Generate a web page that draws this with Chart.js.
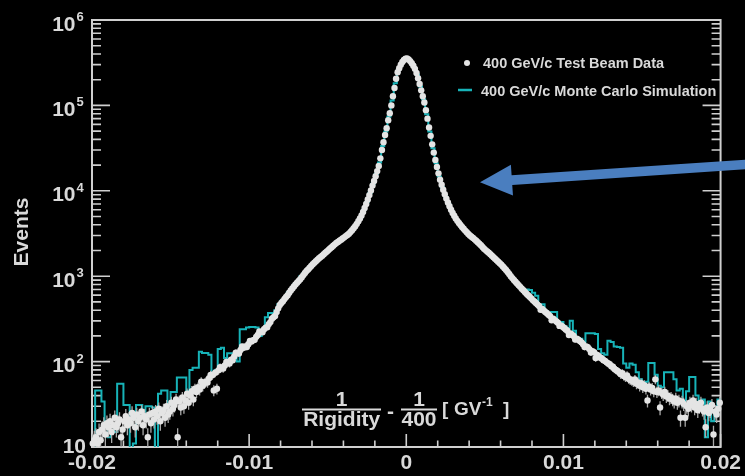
<!DOCTYPE html>
<html><head><meta charset="utf-8">
<script src="https://cdn.jsdelivr.net/npm/chart.js@4.4.1/dist/chart.umd.min.js"></script>
<style>html,body{margin:0;padding:0;background:#000;}canvas{display:block;}</style>
</head><body>
<canvas id="c" width="745" height="476"></canvas>
<script>
// ---- binning / axis definitions ----
const X_MIN = -0.02, X_MAX = 0.02;
const DATA_BIN_WIDTH = 0.0001;   // test-beam data histogram bins
const MC_BIN_WIDTH = 0.0002;     // Monte Carlo histogram bins
const xTickLabels = [-0.02, -0.01, 0, 0.01, 0.02];
const yDecades = [1, 2, 3, 4, 5, 6];   // 10^1 ... 10^6
const legendLabels = ['400 GeV/c Test Beam Data', '400 GeV/c Monte Carlo Simulation'];
const xTitleParts = { num: '1', den: 'Rigidity', num2: '1', den2: '400', unit: 'GV', unitExp: '-1' };
const yTitle = 'Events';

// ---- test beam data, events per bin (x < 0, ascending x) ----
const dataCountsNeg = [
  11, 12, 13, 11, 15, 12, 16, 18, 14, 19,
  17, 20, 15, 18, 22, 17, 19, 21, 13, 16,
  20, 23, 18, 21, 19, 25, 22, 17, 24, 20,
  22, 26, 18, 23, 21, 13, 24, 19, 25, 21,
  26, 23, 28, 20, 25, 27, 22, 30, 24, 26,
  33, 28, 31, 36, 13, 34, 29, 38, 30, 35,
  42, 33, 40, 45, 36, 48, 44, 50, 47, 58,
  52, 56, 58, 57, 64, 70, 69, 46, 74, 48,
  79, 86, 84, 83, 90, 99, 97, 95, 105, 104,
  115, 127, 126, 124, 137, 150, 145, 150, 148, 160,
  174, 172, 178, 180, 195, 205, 226, 222, 221, 240,
  250, 252, 275, 290, 318, 330, 342, 380, 420, 460,
  485, 510, 540, 570, 600, 640, 680, 720, 760, 800,
  840, 880, 920, 975, 1030, 1090, 1150, 1200, 1260, 1320,
  1380, 1440, 1500, 1560, 1620, 1680, 1740, 1810, 1880, 1950,
  2030, 2110, 2190, 2270, 2360, 2450, 2520, 2600, 2680, 2760,
  2850, 2950, 3040, 3150, 3300, 3450, 3650, 3850, 4100, 4400,
  4750, 5150, 5650, 6300, 7000, 7900, 8900, 10100, 11500, 13000,
  14800, 17000, 19500, 24000, 30000, 37000, 45000, 54000, 67000, 81000,
  100000, 128000, 160000, 205000, 244000, 272000, 300000, 322000, 340000, 352000
];
// ---- test beam data, events per bin (x > 0, ascending x) ----
const dataCountsPos = [
  354000, 345000, 330000, 312000, 292000, 268000, 240000, 208000, 178000, 150000,
  128000, 108000, 88000, 70000, 55000, 44000, 35000, 28000, 23000, 19000,
  16000, 13500, 11800, 10300, 9100, 8100, 7300, 6600, 6000, 5500,
  5100, 4750, 4450, 4200, 3980, 3780, 3600, 3420, 3270, 3130,
  3000, 2900, 2800, 2700, 2600, 2500, 2400, 2300, 2200, 2100,
  2020, 1950, 1880, 1810, 1740, 1670, 1600, 1540, 1480, 1420,
  1360, 1300, 1240, 1180, 1120, 1060, 1000, 950, 905, 860,
  820, 785, 750, 715, 685, 655, 625, 600, 575, 550,
  525, 505, 485, 465, 447, 405, 413, 397, 382, 368,
  354, 341, 305, 317, 306, 295, 285, 262, 265, 256,
  247, 238, 230, 205, 214, 207, 200, 181, 186, 180,
  174, 168, 160, 148, 150, 147, 140, 128, 132, 129,
  110, 120, 116, 111, 109, 104, 102, 98, 95, 93,
  88, 87, 82, 80, 77, 75, 71, 73, 68, 66,
  69, 63, 61, 60, 58, 62, 55, 57, 52, 56,
  50, 53, 48, 35, 51, 47, 49, 45, 62, 44,
  46, 29, 43, 41, 44, 39, 40, 37, 38, 36,
  34, 37, 33, 35, 22, 34, 32, 22, 30, 28,
  33, 31, 35, 29, 32, 27, 30, 33, 28, 26,
  17, 29, 25, 27, 31, 14, 26, 24, 28, 33
];
// ---- Monte Carlo simulation, events per bin (x < 0, ascending x) ----
const mcCountsNeg = [
  9, 46, 46, 34, 17, 13, 17, 15, 55, 55,
  31, 31, 9, 11, 31, 31, 24, 30, 30, 29,
  8, 42, 46, 46, 31, 44, 44, 65, 65, 65,
  45, 80, 85, 85, 130, 126, 126, 120, 75, 80,
  140, 145, 110, 125, 125, 110, 100, 240, 240, 250,
  255, 255, 250, 200, 240, 330, 370, 370, 400, 470,
  520, 560, 650, 690, 800, 880, 1000, 1080, 1180, 1300,
  1420, 1540, 1660, 1760, 1930, 2080, 2240, 2380, 2580, 2700,
  2920, 3060, 3400, 3700, 4300, 4900, 6000, 7400, 9500, 12200,
  15800, 21500, 33500, 49500, 74000, 114000, 182000, 258000, 311000, 346000
];
// ---- Monte Carlo simulation, events per bin (x > 0, ascending x) ----
const mcCountsPos = [
  350000, 321000, 281000, 230000, 166000, 118000, 79000, 49500, 31500, 21000,
  14700, 11000, 8600, 6950, 5750, 4900, 4350, 3880, 3500, 3220,
  2960, 2760, 2560, 2360, 2150, 1990, 1850, 1720, 1580, 1460,
  1330, 1200, 1090, 975, 880, 800, 730, 680, 700, 690,
  640, 590, 430, 470, 390, 360, 380, 380, 290, 290,
  260, 245, 300, 230, 190, 185, 170, 215, 215, 215,
  210, 140, 125, 120, 175, 170, 150, 148, 145, 95,
  85, 95, 92, 75, 62, 55, 58, 96, 96, 70,
  52, 50, 75, 75, 75, 62, 46, 48, 30, 45,
  66, 66, 40, 28, 36, 13, 34, 20, 24, 36
];

// ---- build library tables ----
const dataCounts = dataCountsNeg.concat(dataCountsPos);
const dataPoints = dataCounts.map((n, i) => ({ x: X_MIN + (i + 0.5) * DATA_BIN_WIDTH, y: n }));
const mcCounts = mcCountsNeg.concat(mcCountsPos);
const mcPoints = mcCounts.map((n, j) => ({ x: X_MIN + j * MC_BIN_WIDTH, y: n }));
mcPoints.push({ x: X_MAX, y: mcCounts[mcCounts.length - 1] }); // closing edge of last bin

const FONT = '"Liberation Sans", Arial, Helvetica, sans-serif';
const TEXT = '#d9d9d9';
const AXIS = '#cfcfcf';
const DOT = '#e4e4e4';
const TEAL = '#17b3b8';
Chart.defaults.font.family = FONT;

const rootStyle = {
  id: 'rootStyle',
  beforeDraw(chart) {
    const c = chart.ctx; c.save(); c.fillStyle = '#000'; c.fillRect(0, 0, chart.width, chart.height); c.restore();
  },
  beforeDatasetsDraw(chart) {
    const { ctx, chartArea: a, scales: { x, y } } = chart;
    ctx.save();
    ctx.strokeStyle = AXIS;
    ctx.lineWidth = 2;
    ctx.strokeRect(a.left, a.top, a.right - a.left, a.bottom - a.top);
    ctx.lineWidth = 1.6;
    ctx.beginPath();
    for (let i = 0; i <= 20; i++) {
      const v = X_MIN + i * 0.002;
      const px = x.getPixelForValue(v);
      const len = (i % 5 === 0) ? 13 : 6.5;
      ctx.moveTo(px, a.bottom); ctx.lineTo(px, a.bottom - len);
    }
    for (const d of yDecades) {
      const py = y.getPixelForValue(Math.pow(10, d));
      ctx.moveTo(a.left, py); ctx.lineTo(a.left + 18, py);
      ctx.moveTo(a.right, py); ctx.lineTo(a.right - 18, py);
      if (d < 6) {
        for (let m = 2; m <= 9; m++) {
          const pm = y.getPixelForValue(m * Math.pow(10, d));
          ctx.moveTo(a.left, pm); ctx.lineTo(a.left + 9, pm);
          ctx.moveTo(a.right, pm); ctx.lineTo(a.right - 9, pm);
        }
      }
    }
    ctx.stroke();
    ctx.restore();
  },
  beforeDatasetDraw(chart, args) {
    if (args.index !== 0) return;
    const { ctx, chartArea: a, scales: { x, y } } = chart;
    ctx.save();
    ctx.beginPath(); ctx.rect(a.left, a.top, a.right - a.left, a.bottom - a.top); ctx.clip();
    ctx.strokeStyle = '#a9a9a9'; ctx.lineWidth = 1.3;
    ctx.beginPath();
    for (const p of dataPoints) {
      const e = Math.sqrt(p.y);
      const px = x.getPixelForValue(p.x);
      ctx.moveTo(px, y.getPixelForValue(p.y + e));
      ctx.lineTo(px, y.getPixelForValue(Math.max(p.y - e, 1)));
    }
    ctx.stroke();
    ctx.restore();
  },
  afterDraw(chart) {
    const { ctx, scales: { y } } = chart;
    ctx.save();
    ctx.fillStyle = TEXT;
    // y tick labels 10^n
    for (const d of yDecades) {
      const ty = y.getPixelForValue(Math.pow(10, d));
      ctx.font = 'bold 21px ' + FONT;
      ctx.textBaseline = 'alphabetic';
      if (d === 1) {
        ctx.textAlign = 'right'; ctx.fillText('10', 86, ty + 6);
      } else {
        ctx.textAlign = 'right'; ctx.fillText('10', 75.5, ty + 10.5);
        ctx.font = 'bold 13px ' + FONT; ctx.textAlign = 'left';
        ctx.fillText(String(d), 76.5, ty + 1);
      }
    }
    // y title
    ctx.save();
    ctx.translate(22, 232); ctx.rotate(-Math.PI / 2);
    ctx.font = 'bold 21px ' + FONT; ctx.textAlign = 'center'; ctx.textBaseline = 'middle';
    ctx.fillText(yTitle, 0, 0);
    ctx.restore();
    // x title: 1/Rigidity - 1/400 [GV^-1]
    ctx.font = 'bold 21px ' + FONT; ctx.textAlign = 'center'; ctx.textBaseline = 'alphabetic';
    ctx.fillText(xTitleParts.num, 341.7, 406);
    ctx.fillText(xTitleParts.den, 341.7, 426);
    ctx.fillRect(302, 408.5, 79, 2);
    ctx.fillText('-', 390.5, 418);
    ctx.fillText(xTitleParts.num2, 419, 406);
    ctx.fillText(xTitleParts.den2, 419, 426);
    ctx.fillRect(401, 408.5, 36, 2);
    ctx.textAlign = 'left';
    ctx.font = 'bold 19px ' + FONT;
    ctx.fillText('[', 442, 415);
    ctx.fillText(xTitleParts.unit, 454, 415);
    ctx.font = 'bold 12px ' + FONT;
    ctx.fillText(xTitleParts.unitExp, 482, 406);
    ctx.font = 'bold 19px ' + FONT;
    ctx.fillText(']', 503, 415);
    // legend
    ctx.fillStyle = DOT;
    ctx.beginPath(); ctx.arc(467, 63, 3, 0, Math.PI * 2); ctx.fill();
    ctx.strokeStyle = TEAL; ctx.lineWidth = 2.5;
    ctx.beginPath(); ctx.moveTo(458, 90); ctx.lineTo(472, 90); ctx.stroke();
    ctx.fillStyle = TEXT;
    ctx.font = 'bold 14.5px ' + FONT; ctx.textAlign = 'left';
    ctx.fillText(legendLabels[0], 483, 67.5);
    ctx.fillText(legendLabels[1], 481, 95.5);
    // annotation arrow
    const P = { x: 480, y: 182.3 }, T = { x: 760, y: 163.5 };
    const dx = T.x - P.x, dy = T.y - P.y, L = Math.hypot(dx, dy);
    const ux = dx / L, uy = dy / L, nx = -uy, ny = ux;
    const B = { x: P.x + 32 * ux, y: P.y + 32 * uy };
    const hw = 15.5, sw = 4.8;
    ctx.fillStyle = '#4a7ebf';
    ctx.beginPath();
    ctx.moveTo(P.x, P.y);
    ctx.lineTo(B.x + hw * nx, B.y + hw * ny);
    ctx.lineTo(B.x + sw * nx, B.y + sw * ny);
    ctx.lineTo(T.x + sw * nx, T.y + sw * ny);
    ctx.lineTo(T.x - sw * nx, T.y - sw * ny);
    ctx.lineTo(B.x - sw * nx, B.y - sw * ny);
    ctx.lineTo(B.x - hw * nx, B.y - hw * ny);
    ctx.closePath(); ctx.fill();
    ctx.restore();
  }
};

new Chart(document.getElementById('c'), {
  type: 'scatter',
  data: {
    datasets: [
      { label: legendLabels[0], data: dataPoints, order: 0, showLine: false,
        pointRadius: 3.2, pointBackgroundColor: DOT, pointBorderWidth: 0, clip: 5 },
      { label: legendLabels[1], data: mcPoints, order: 1, showLine: true, stepped: true,
        borderColor: TEAL, borderWidth: 2, pointRadius: 0, fill: false }
    ]
  },
  options: {
    responsive: false, animation: false, devicePixelRatio: 1,
    layout: { padding: { top: 20, right: 23, left: 0, bottom: 0 } },
    plugins: { legend: { display: false }, tooltip: { enabled: false } },
    scales: {
      x: {
        type: 'linear', min: X_MIN, max: X_MAX,
        grid: { display: false, drawTicks: false }, border: { display: false },
        ticks: {
          color: TEXT, font: { size: 21, weight: 'bold' }, padding: 4,
          autoSkip: false, maxRotation: 0, stepSize: 0.01,
          callback: (v) => {
            const r = Math.round(v * 100) / 100;
            return xTickLabels.some(t => Math.abs(t - r) < 1e-9) ? String(r) : '';
          }
        },
        afterFit: (s) => { s.height = 29; }
      },
      y: {
        type: 'logarithmic', min: 10, max: 1e6,
        grid: { display: false, drawTicks: false }, border: { display: false },
        ticks: { display: false },
        afterFit: (s) => { s.width = 92; }
      }
    }
  },
  plugins: [rootStyle]
});
</script>
</body></html>
